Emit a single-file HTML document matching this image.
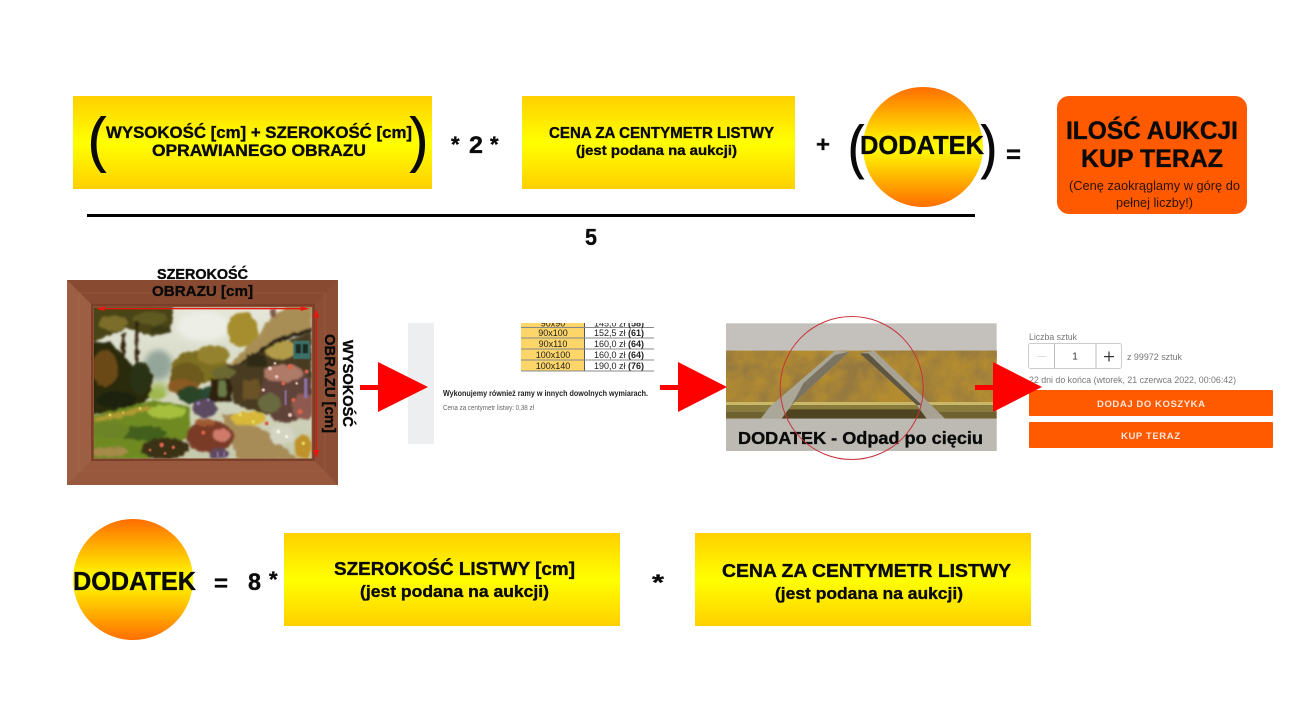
<!DOCTYPE html>
<html><head><meta charset="utf-8"><style>
html,body{margin:0;padding:0;background:#fff;width:1294px;height:709px;overflow:hidden}
svg{display:block}
text{font-family:"Liberation Sans",sans-serif}
.b{font-weight:700;fill:#0a0a0a;stroke:#0a0a0a;stroke-width:.35px}
.p{fill:#0a0a0a;stroke:#0a0a0a;stroke-width:.9px}
</style></head><body>
<svg width="1294" height="709" viewBox="0 0 1294 709" xmlns="http://www.w3.org/2000/svg">
<defs>
<linearGradient id="y" x1="0" y1="0" x2="0" y2="1"><stop offset="0" stop-color="#ffd000"/><stop offset=".5" stop-color="#ffff00"/><stop offset="1" stop-color="#ffd000"/></linearGradient>
<linearGradient id="c" x1="0" y1="0" x2="0" y2="1"><stop offset="0" stop-color="#ff6e00"/><stop offset=".5" stop-color="#ffff00"/><stop offset="1" stop-color="#ff6e00"/></linearGradient>
<linearGradient id="sky" x1="0" y1="0" x2="0" y2="1"><stop offset="0" stop-color="#e6e8dc"/><stop offset="1" stop-color="#c4c8aa"/></linearGradient>
<filter id="paint" x="-10%" y="-10%" width="120%" height="120%">
<feTurbulence type="fractalNoise" baseFrequency=".06" numOctaves="3" seed="4" result="n"/>
<feDisplacementMap in="SourceGraphic" in2="n" scale="14" xChannelSelector="R" yChannelSelector="G"/>
<feGaussianBlur stdDeviation="3.2"/>
</filter>
<filter id="soft"><feGaussianBlur stdDeviation="9"/></filter>
<filter id="dot"><feGaussianBlur stdDeviation="1.8"/></filter>
<filter id="speck" x="0" y="0" width="100%" height="100%">
<feTurbulence type="fractalNoise" baseFrequency=".014" numOctaves="4" seed="9"/>
<feColorMatrix values="0 0 0 0 .3  0 0 0 0 .19  0 0 0 0 .05  1.6 1.6 0 0 -1.2"/>
</filter>
</defs>

<!-- row 1 -->
<rect x="73" y="96" width="359" height="93" fill="url(#y)"/>
<rect x="522" y="96" width="273" height="93" fill="url(#y)"/>
<circle cx="923" cy="147" r="60" fill="url(#c)"/>
<rect x="1057" y="96" width="190" height="118" rx="12" fill="#ff5a00"/>
<rect x="87" y="214" width="888" height="3" fill="#000"/>

<text class="p" x="88" y="160" font-size="60" textLength="18" lengthAdjust="spacingAndGlyphs">(</text>
<text class="p" x="410" y="160" font-size="60" textLength="18" lengthAdjust="spacingAndGlyphs">)</text>
<text class="b" x="106" y="138" font-size="16.500" textLength="306" lengthAdjust="spacingAndGlyphs">WYSOKOŚĆ [cm] + SZEROKOŚĆ [cm]</text>
<text class="b" x="152" y="156" font-size="16.500" textLength="214" lengthAdjust="spacingAndGlyphs">OPRAWIANEGO OBRAZU</text>
<text class="b" x="451" y="152" font-size="22">*</text>
<text class="b" x="469" y="153" font-size="24" textLength="14" lengthAdjust="spacingAndGlyphs">2</text>
<text class="b" x="490" y="152" font-size="22">*</text>
<text class="b" x="549" y="138" font-size="15.500" textLength="225" lengthAdjust="spacingAndGlyphs">CENA ZA CENTYMETR LISTWY</text>
<text class="b" x="576" y="155" font-size="14" textLength="161" lengthAdjust="spacingAndGlyphs">(jest podana na aukcji)</text>
<text class="b" x="816" y="152" font-size="22" textLength="14" lengthAdjust="spacingAndGlyphs">+</text>
<text class="p" x="848" y="167" font-size="58" textLength="16" lengthAdjust="spacingAndGlyphs">(</text>
<text class="p" x="981" y="167" font-size="58" textLength="16" lengthAdjust="spacingAndGlyphs">)</text>
<text class="b" x="860" y="154" font-size="26" textLength="124" lengthAdjust="spacingAndGlyphs">DODATEK</text>
<text class="b" x="1006" y="163" font-size="25" textLength="15" lengthAdjust="spacingAndGlyphs">=</text>
<text class="b" x="1066" y="139" font-size="25" textLength="172" lengthAdjust="spacingAndGlyphs">ILOŚĆ AUKCJI</text>
<text class="b" x="1081" y="167" font-size="25" textLength="142" lengthAdjust="spacingAndGlyphs">KUP TERAZ</text>
<text x="1069" y="190" font-size="12.500" fill="#2a1200" textLength="171" lengthAdjust="spacingAndGlyphs">(Cenę zaokrąglamy w górę do</text>
<text x="1116" y="207" font-size="12.500" fill="#2a1200" textLength="77" lengthAdjust="spacingAndGlyphs">pełnej liczby!)</text>
<text class="b" x="585" y="245" font-size="23" textLength="12" lengthAdjust="spacingAndGlyphs">5</text>

<!-- framed painting -->
<rect x="67" y="280" width="271" height="205" fill="#8d4d32"/>
<polygon points="67,280 338,280 313,306 93,306" fill="#884a30"/>
<polygon points="67,485 338,485 313,459 93,459" fill="#98583e"/>
<polygon points="67,280 93,306 93,459 67,485" fill="#9c5f44"/>
<polygon points="338,280 313,306 313,459 338,485" fill="#8c4f35"/>
<rect x="79" y="293" width="246" height="178" fill="none" stroke="#b07555" stroke-width=".8" opacity=".35"/>
<rect x="92" y="305" width="222" height="155" fill="none" stroke="#7a3f28" stroke-width="2"/>
<g transform="translate(90 300) scale(.33333)">
<svg x="12" y="22" width="653" height="453" viewBox="12 22 653 453">
<rect x="0" y="0" width="690" height="495" fill="url(#sky)"/>
<g filter="url(#soft)">
<ellipse cx="340" cy="80" rx="80" ry="45" fill="#edeee6"/>
<ellipse cx="205" cy="195" rx="42" ry="45" fill="#94a69a"/>
<ellipse cx="205" cy="270" rx="30" ry="20" fill="#a8bc62"/>
</g>
<g filter="url(#paint)">
<polygon points="0,0 250,0 245,80 190,110 110,85 50,110 0,130" fill="#4a4418"/>
<ellipse cx="70" cy="70" rx="45" ry="22" fill="#7b6e2c"/>
<ellipse cx="180" cy="55" rx="50" ry="20" fill="#5e5a20"/>
<ellipse cx="210" cy="90" rx="30" ry="14" fill="#3e3a14"/>
<polygon points="96,100 106,100 104,250 92,250" fill="#33220f"/>
<polygon points="136,60 146,60 146,200 136,200" fill="#33220f"/>
<polygon points="0,125 60,125 130,200 190,225 180,295 130,325 0,345" fill="#2c2a10"/>
<ellipse cx="45" cy="205" rx="38" ry="55" fill="#6a4a18"/>
<ellipse cx="150" cy="235" rx="32" ry="50" fill="#2a3212"/>
<ellipse cx="80" cy="300" rx="60" ry="26" fill="#1d2410"/>
<polygon points="0,350 100,325 190,300 300,320 300,410 170,480 0,480" fill="#6f8a24"/>
<ellipse cx="230" cy="335" rx="60" ry="20" fill="#a6bf3e"/>
<ellipse cx="200" cy="285" rx="26" ry="14" fill="#a0b850"/>
<ellipse cx="160" cy="400" rx="70" ry="22" fill="#43601a"/>
<ellipse cx="60" cy="390" rx="55" ry="25" fill="#6c8426"/>
<ellipse cx="60" cy="456" rx="55" ry="14" fill="#a58a48"/>
<polygon points="10,355 100,335 170,318 180,328 100,350 20,365" fill="#b09a30"/>
<ellipse cx="330" cy="200" rx="85" ry="48" fill="#7e6e24"/>
<ellipse cx="290" cy="230" rx="50" ry="42" fill="#6d5a1e"/>
<ellipse cx="370" cy="165" rx="50" ry="28" fill="#94822e"/>
<ellipse cx="280" cy="260" rx="45" ry="22" fill="#8a5a22"/>
<ellipse cx="458" cy="90" rx="46" ry="52" fill="#a68e2e"/>
<ellipse cx="305" cy="285" rx="42" ry="26" fill="#2c4428"/>
<ellipse cx="360" cy="280" rx="30" ry="20" fill="#2a4a30"/>
<polygon points="412,195 665,95 665,345 530,345 430,310" fill="#483a20"/>
<ellipse cx="575" cy="150" rx="52" ry="28" fill="#b29c48"/>
<polygon points="414,195 490,125 540,55 590,20 665,15 665,85 560,115 445,190" fill="#a88e54"/>
<polygon points="445,190 560,115 665,82 665,95 560,130 450,195" fill="#2a2412"/>
<rect x="543" y="28" width="14" height="24" fill="#80594a"/>
<ellipse cx="400" cy="218" rx="36" ry="18" fill="#6c6830"/>
<rect x="362" y="235" width="62" height="70" fill="#2e2410"/>
<rect x="385" y="240" width="22" height="50" fill="#6a7a46"/>
<rect x="470" y="165" width="60" height="35" fill="#2e2a18"/>
<rect x="460" y="240" width="50" height="58" fill="#6c5226"/>
<ellipse cx="590" cy="280" rx="78" ry="88" fill="#5e4238"/>
<ellipse cx="580" cy="220" rx="60" ry="26" fill="#b07a68"/>
<ellipse cx="640" cy="320" rx="35" ry="40" fill="#8e5a50"/>
<ellipse cx="540" cy="310" rx="34" ry="30" fill="#6a6a40"/>
<polygon points="395,345 430,340 530,395 625,480 445,480" fill="#a88c58"/>
<ellipse cx="345" cy="325" rx="38" ry="28" fill="#5c4c60"/>
<ellipse cx="475" cy="355" rx="55" ry="20" fill="#d8b838"/>
<ellipse cx="575" cy="405" rx="38" ry="28" fill="#d4d4c2"/>
<ellipse cx="640" cy="440" rx="26" ry="38" fill="#c0922c"/>
<ellipse cx="360" cy="410" rx="72" ry="48" fill="#7a3a28"/>
<ellipse cx="395" cy="405" rx="26" ry="20" fill="#cf7a6a"/>
<ellipse cx="345" cy="368" rx="30" ry="12" fill="#a05a30"/>
<ellipse cx="225" cy="445" rx="72" ry="32" fill="#3a3014"/>
<ellipse cx="385" cy="462" rx="30" ry="16" fill="#5e4a5c"/>
</g>
<g filter="url(#dot)">
<rect x="610" y="122" width="50" height="55" fill="#3a7068"/>
<rect x="617" y="132" width="16" height="28" fill="#1e2a24"/>
<rect x="638" y="132" width="16" height="28" fill="#1e2a24"/>
<g fill="#d9604c"><circle cx="215" cy="435" r="7"/><circle cx="250" cy="442" r="5"/><circle cx="180" cy="450" r="4"/><circle cx="225" cy="460" r="4"/><circle cx="600" cy="200" r="8"/><circle cx="630" cy="335" r="8"/><circle cx="580" cy="250" r="6"/><circle cx="610" cy="300" r="6"/><circle cx="650" cy="215" r="6"/><circle cx="340" cy="398" r="6"/><circle cx="530" cy="370" r="6"/></g>
<g fill="#eac8c0"><circle cx="540" cy="205" r="6"/><circle cx="560" cy="230" r="5"/><circle cx="600" cy="345" r="6"/><circle cx="520" cy="270" r="5"/><circle cx="620" cy="250" r="4"/><circle cx="555" cy="190" r="4"/></g>
<g fill="#8a70a8"><rect x="642" y="235" width="10" height="60"/><rect x="584" y="270" width="6" height="45"/><circle cx="325" cy="310" r="6"/><circle cx="355" cy="300" r="5"/><rect x="380" y="455" width="6" height="20"/><rect x="400" y="455" width="5" height="18"/></g>
<g fill="#e8d860"><circle cx="150" cy="325" r="4"/><circle cx="60" cy="345" r="4"/><circle cx="100" cy="338" r="3"/><circle cx="450" cy="345" r="5"/><circle cx="490" cy="365" r="5"/><circle cx="640" cy="430" r="5"/></g>
<g fill="#f4f4ea"><circle cx="565" cy="395" r="6"/><circle cx="590" cy="410" r="5"/></g>
</g>
</svg>
<rect x="22" y="24" width="630" height="4" fill="#e8170e"/>
<polygon points="18,26 44,19 44,33" fill="#e8170e"/>
<polygon points="658,26 632,19 632,33" fill="#e8170e"/>
<rect x="677" y="45" width="4" height="410" fill="#d8180e"/>
<polygon points="679,27 670,52 688,52" fill="#e8170e"/>
<polygon points="679,475 670,450 688,450" fill="#e8170e"/>
</g>
<text class="b" x="157" y="279" font-size="14.500" textLength="91" lengthAdjust="spacingAndGlyphs">SZEROKOŚĆ</text>
<text class="b" x="152" y="296" font-size="15" textLength="101" lengthAdjust="spacingAndGlyphs">OBRAZU [cm]</text>
<text class="b" transform="translate(343 340) rotate(90)" font-size="14.500" textLength="87" lengthAdjust="spacingAndGlyphs">WYSOKOŚĆ</text>
<text class="b" transform="translate(325 334) rotate(90)" font-size="15" textLength="99" lengthAdjust="spacingAndGlyphs">OBRAZU [cm]</text>

<!-- table panel -->
<rect x="408" y="323" width="26" height="121" fill="#eceef0"/>
<rect x="521" y="323" width="63" height="48" fill="#fdd568"/>
<rect x="584" y="323" width="1" height="48" fill="#555"/>
<g fill="#888">
<rect x="521" y="327" width="133" height="1"/><rect x="521" y="337.500" width="133" height="1"/>
<rect x="521" y="348.500" width="133" height="1"/><rect x="521" y="359.500" width="133" height="1"/><rect x="521" y="370.500" width="133" height="1"/>
</g>
<text x="553" y="326.500" font-size="9" fill="#222" text-anchor="middle">90x90</text>
<text x="619" y="326.500" font-size="9" fill="#222" text-anchor="middle">145,0 zł <tspan font-weight="700">(58)</tspan></text>
<rect x="515" y="312" width="145" height="11" fill="#fff"/>
<g font-size="9" fill="#222" text-anchor="middle">
<text x="553" y="336">90x100</text><text x="553" y="347">90x110</text><text x="553" y="358">100x100</text><text x="553" y="369">100x140</text>
<text x="619" y="336">152,5 zł <tspan font-weight="700">(61)</tspan></text>
<text x="619" y="347">160,0 zł <tspan font-weight="700">(64)</tspan></text>
<text x="619" y="358">160,0 zł <tspan font-weight="700">(64)</tspan></text>
<text x="619" y="369">190,0 zł <tspan font-weight="700">(76)</tspan></text>
</g>
<text x="443" y="396" font-size="8.500" font-weight="700" fill="#222" textLength="205" lengthAdjust="spacingAndGlyphs">Wykonujemy również ramy w innych dowolnych wymiarach.</text>
<text x="443" y="410" font-size="7" fill="#666" textLength="91" lengthAdjust="spacingAndGlyphs">Cena za centymetr listwy: 0,38 zł</text>

<!-- photo -->
<g transform="translate(720 310) scale(.33333)">
<rect x="18" y="40" width="812" height="383" fill="#c4c1bc"/>
<rect x="18" y="122" width="812" height="158" fill="#b48c30"/>
<rect x="18" y="122" width="812" height="158" filter="url(#speck)"/>
<rect x="18" y="276" width="812" height="9" fill="#c8b868"/>
<rect x="18" y="285" width="812" height="20" fill="#8a7c3c"/>
<rect x="18" y="305" width="812" height="21" fill="#6e6230"/>
<polygon points="190,298 600,298 622,326 185,326" fill="#4e4420"/>
<polygon points="345,122 388,125 215,285 185,326 122,326 150,290" fill="#aaa698"/>
<polygon points="388,125 345,135 250,220 215,285" fill="#7c7462"/>
<polygon points="462,122 420,130 590,285 620,326 675,326 610,262" fill="#a8a294"/>
<polygon points="420,130 445,130 605,285 590,285" fill="#5e5640"/>
<rect x="18" y="326" width="812" height="97" fill="#bdbab4"/>
</g>
<text class="b" x="738" y="444" font-size="17.500" textLength="245" lengthAdjust="spacingAndGlyphs">DODATEK - Odpad po cięciu</text>
<circle cx="851.700" cy="388" r="71.500" fill="none" stroke="#c8323a" stroke-width="1"/>

<!-- right panel -->
<text x="1029" y="340" font-size="9.500" fill="#777" textLength="48" lengthAdjust="spacingAndGlyphs">Liczba sztuk</text>
<rect x="1028.500" y="343.500" width="93" height="25" rx="2" fill="#fff" stroke="#ccc"/>
<rect x="1054" y="344" width="1" height="24" fill="#bbb"/><rect x="1095.500" y="344" width="1" height="24" fill="#bbb"/>
<rect x="1037" y="356" width="9" height="1" fill="#ddd"/>
<text x="1075" y="359.500" font-size="10" fill="#333" text-anchor="middle">1</text>
<rect x="1104" y="356" width="10" height="1.200" fill="#333"/><rect x="1108.400" y="351.500" width="1.200" height="10" fill="#333"/>
<text x="1127" y="360" font-size="9.500" fill="#777" textLength="55" lengthAdjust="spacingAndGlyphs">z 99972 sztuk</text>
<text x="1029" y="383" font-size="9.500" fill="#777" textLength="207" lengthAdjust="spacingAndGlyphs">22 dni do końca (wtorek, 21 czerwca 2022, 00:06:42)</text>
<rect x="1029" y="390" width="244" height="26" rx="1" fill="#ff5a00"/>
<rect x="1029" y="422" width="244" height="26" rx="1" fill="#ff5a00"/>
<text x="1097" y="407" font-size="9.500" font-weight="700" fill="#ffe6d8" textLength="108" lengthAdjust="spacing">DODAJ DO KOSZYKA</text>
<text x="1121" y="439" font-size="9.500" font-weight="700" fill="#ffe6d8" textLength="59" lengthAdjust="spacing">KUP TERAZ</text>

<!-- arrows -->
<g fill="#fe0000">
<rect x="360" y="385" width="19" height="5"/><polygon points="378,362 428,387 378,412"/>
<rect x="660" y="385" width="19" height="5"/><polygon points="678,362 727,387 678,412"/>
<rect x="975" y="385" width="19" height="5"/><polygon points="993,362 1042,387 993,412"/>
</g>

<!-- row 3 -->
<ellipse cx="133" cy="579.500" rx="60" ry="60.500" fill="url(#c)"/>
<rect x="284" y="533" width="336" height="93" fill="url(#y)"/>
<rect x="695" y="533" width="336" height="93" fill="url(#y)"/>
<text class="b" x="73" y="590" font-size="26" textLength="123" lengthAdjust="spacingAndGlyphs">DODATEK</text>
<text class="b" x="214" y="591" font-size="23" textLength="14" lengthAdjust="spacingAndGlyphs">=</text>
<text class="b" x="248" y="590" font-size="24" textLength="13" lengthAdjust="spacingAndGlyphs">8</text>
<text class="b" x="269" y="587" font-size="22">*</text>
<text class="b" x="334" y="575" font-size="18" textLength="241" lengthAdjust="spacingAndGlyphs">SZEROKOŚĆ LISTWY [cm]</text>
<text class="b" x="360" y="597" font-size="17" textLength="189" lengthAdjust="spacingAndGlyphs">(jest podana na aukcji)</text>
<text class="b" x="652" y="590" font-size="22" textLength="12" lengthAdjust="spacingAndGlyphs">*</text>
<text class="b" x="722" y="577" font-size="18.500" textLength="289" lengthAdjust="spacingAndGlyphs">CENA ZA CENTYMETR LISTWY</text>
<text class="b" x="775" y="599" font-size="17" textLength="188" lengthAdjust="spacingAndGlyphs">(jest podana na aukcji)</text>
</svg>
</body></html>
